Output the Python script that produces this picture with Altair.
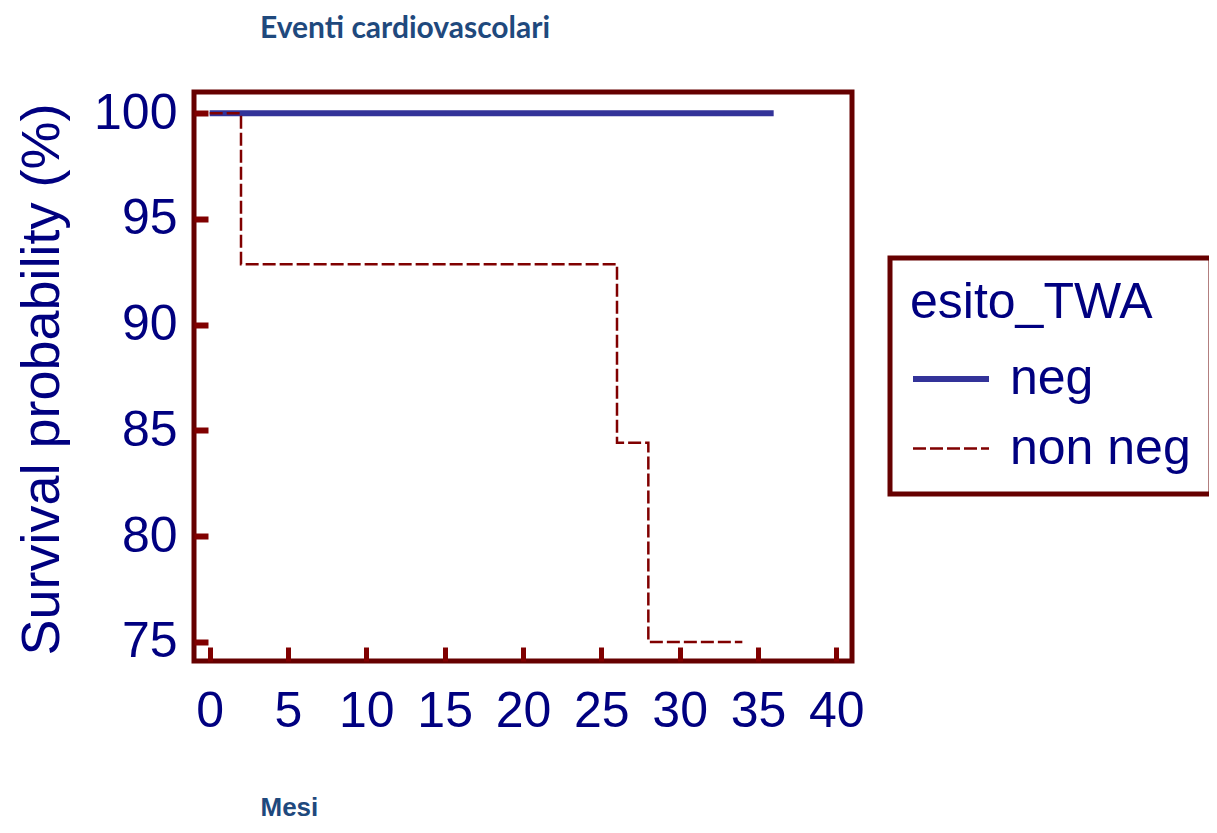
import altair as alt
import pandas as pd

# Data (Kaplan-Meier step curves)
groups = ["neg", "non neg"]
neg_months = [0, 36]
neg_surv = [100.0, 100.0]
nonneg_months = [0, 2, 26, 28, 34]
nonneg_surv = [100.0, 92.86, 84.42, 75.0, 75.0]
x_ticks = [0, 5, 10, 15, 20, 25, 30, 35, 40]
y_ticks = [75, 80, 85, 90, 95, 100]

rows = []
for m, s in zip(neg_months, neg_surv):
    rows.append({"Mesi": m, "surv": s, "esito_TWA": groups[0]})
for m, s in zip(nonneg_months, nonneg_surv):
    rows.append({"Mesi": m, "surv": s, "esito_TWA": groups[1]})
df = pd.DataFrame(rows)

REG = "'Liberation Sans', Arial, sans-serif"
NAVY = "#000080"
FRAME = "#660000"
TICK = "#800000"
TITLE_BLUE = "#1F497D"

chart = alt.Chart(df).mark_line(interpolate="step-after").encode(
    x=alt.X(
        "Mesi:Q",
        scale=alt.Scale(domain=[-1, 41], nice=False, zero=False),
        axis=alt.Axis(
            values=x_ticks, domain=False, grid=False,
            tickColor=TICK, tickWidth=5, tickSize=14, offset=-14,
            labelPadding=25, labelFont=REG, labelFontSize=50, labelColor=NAVY,
            title="Mesi", titleFont=REG, titleFontSize=26, titleFontWeight="bold",
            titleColor=TITLE_BLUE, titleAlign="left", titleAnchor="start",
            titleBaseline="alphabetic", titleX=66, titleY=168,
        ),
    ),
    y=alt.Y(
        "surv:Q",
        scale=alt.Scale(domain=[74.1, 101], nice=False, zero=False),
        axis=alt.Axis(
            values=y_ticks, domain=False, grid=False,
            tickColor=TICK, tickWidth=6, tickSize=14, offset=-14,
            labelPadding=17, labelFont=REG, labelFontSize=50, labelColor=NAVY,
            title="Survival probability (%)", titleFont=REG, titleFontSize=54,
            titleFontWeight="normal", titleColor=NAVY, titleAngle=-90,
            titleAlign="center", titleBaseline="alphabetic",
            titleX=-150, titleY=287,
        ),
    ),
    color=alt.Color(
        "esito_TWA:N",
        scale=alt.Scale(domain=groups, range=["#333399", "#800000"]),
        legend=alt.Legend(title="esito_TWA"),
    ),
    strokeDash=alt.StrokeDash(
        "esito_TWA:N",
        scale=alt.Scale(domain=groups, range=[[1, 0], [13, 4]]),
        legend=alt.Legend(title="esito_TWA"),
    ),
    strokeWidth=alt.StrokeWidth(
        "esito_TWA:N",
        scale=alt.Scale(domain=groups, range=[6, 2.5]),
        legend=alt.Legend(title="esito_TWA"),
    ),
).properties(
    width=658,
    height=569,
    title=alt.TitleParams(
        "Eventi cardiovascolari", anchor="start", frame="group", dx=66,
        font="Lato, 'Open Sans', sans-serif", fontSize=30, fontWeight="bold",
        color=TITLE_BLUE, offset=44,
    ),
    autosize=alt.AutoSizeParams(type="none"),
    padding={"left": 186, "top": 84, "right": 357, "bottom": 164},
).configure_view(
    stroke=FRAME, strokeWidth=5,
).configure_legend(
    orient="none", legendX=696, legendY=166,
    strokeColor=FRAME, strokeWidth=5, padding=20, fillColor="white",
    titleFont=REG, titleFontSize=50, titleFontWeight="normal", titleColor=NAVY,
    titlePadding=10, titleLimit=0,
    labelFont=REG, labelFontSize=50, labelColor=NAVY, labelOffset=18, labelLimit=0,
    symbolType="stroke", symbolSize=5776, rowPadding=5,
)

chart.save("out.html", embed_options={"renderer": "svg", "actions": False})
